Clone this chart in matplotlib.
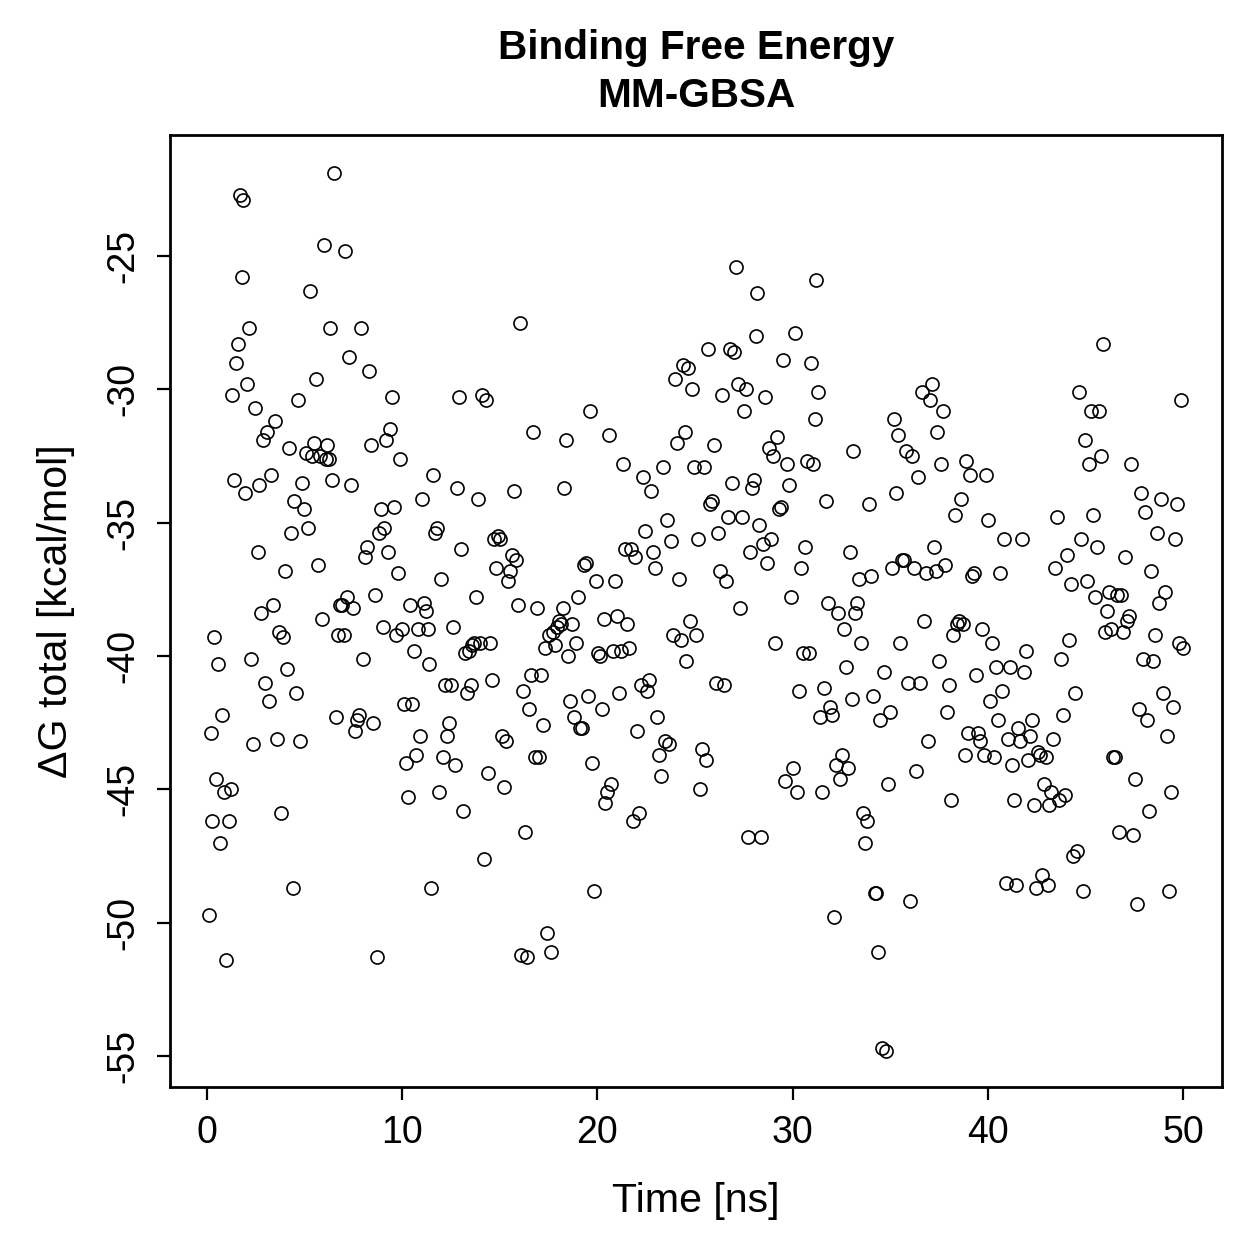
import matplotlib
matplotlib.use("Agg")
import matplotlib.pyplot as plt

plt.rcParams['font.family'] = ['Liberation Sans', 'DejaVu Sans']
plt.rcParams['axes.unicode_minus'] = False

# time [ns] of each frame
time_ns = [
    0.10, 0.20, 0.26, 0.36, 0.46, 0.56, 0.67, 0.77, 0.87, 0.97, 1.13, 1.23,
    1.28, 1.38, 1.49, 1.59, 1.69, 1.79, 1.84, 1.95, 2.05, 2.15,
    2.25, 2.36, 2.46, 2.61, 2.66, 2.77, 2.87, 2.97, 3.07, 3.18,
    3.28, 3.38, 3.48, 3.59, 3.69, 3.79, 3.89, 4.00, 4.10, 4.20,
    4.30, 4.41, 4.46, 4.56, 4.66, 4.76, 4.87, 4.97, 5.07, 5.17,
    5.28, 5.38, 5.48, 5.58, 5.69, 5.79, 5.89, 5.99, 6.10, 6.15,
    6.25, 6.30, 6.40, 6.51, 6.61, 6.71, 6.81, 6.92, 7.02, 7.07,
    7.17, 7.27, 7.38, 7.48, 7.58, 7.68, 7.79, 7.89, 7.99, 8.09,
    8.20, 8.30, 8.40, 8.50, 8.61, 8.71, 8.81, 8.91, 9.02, 9.07,
    9.17, 9.27, 9.38, 9.48, 9.58, 9.68, 9.78, 9.89, 9.99, 10.09,
    10.19, 10.30, 10.40, 10.50, 10.60, 10.71, 10.81, 10.91, 11.01, 11.12,
    11.22, 11.32, 11.37, 11.48, 11.58, 11.68, 11.78, 11.89, 11.99, 12.09,
    12.19, 12.30, 12.40, 12.50, 12.60, 12.70, 12.81, 12.91, 13.01, 13.11,
    13.22, 13.32, 13.42, 13.52, 13.58, 13.68, 13.78, 13.88, 13.99, 14.09,
    14.19, 14.29, 14.40, 14.50, 14.60, 14.70, 14.81, 14.91, 15.01, 15.11,
    15.22, 15.32, 15.42, 15.52, 15.62, 15.73, 15.83, 15.93, 16.03, 16.09,
    16.19, 16.29, 16.39, 16.50, 16.60, 16.70, 16.80, 16.91, 17.01, 17.11,
    17.21, 17.32, 17.42, 17.52, 17.62, 17.73, 17.83, 17.93, 18.03, 18.14,
    18.24, 18.29, 18.39, 18.49, 18.60, 18.70, 18.80, 18.90, 19.01, 19.11,
    19.21, 19.31, 19.42, 19.52, 19.62, 19.72, 19.83, 19.93, 20.03, 20.13,
    20.24, 20.34, 20.39, 20.49, 20.59, 20.70, 20.80, 20.90, 21.00, 21.11,
    21.21, 21.31, 21.41, 21.52, 21.62, 21.72, 21.82, 21.93, 22.03, 22.13,
    22.23, 22.34, 22.44, 22.54, 22.64, 22.75, 22.85, 22.95, 23.05, 23.16,
    23.26, 23.36, 23.46, 23.57, 23.67, 23.77, 23.87, 23.98, 24.08, 24.18,
    24.28, 24.39, 24.49, 24.54, 24.64, 24.74, 24.85, 24.95, 25.05, 25.15,
    25.26, 25.36, 25.46, 25.56, 25.67, 25.77, 25.87, 25.97, 26.08, 26.18,
    26.28, 26.38, 26.49, 26.59, 26.69, 26.79, 26.90, 27.00, 27.10, 27.20,
    27.31, 27.41, 27.51, 27.61, 27.72, 27.82, 27.92, 28.02, 28.13, 28.18,
    28.28, 28.38, 28.48, 28.59, 28.69, 28.79, 28.89, 29.00, 29.10, 29.20,
    29.30, 29.41, 29.51, 29.61, 29.71, 29.82, 29.92, 30.02, 30.12, 30.23,
    30.33, 30.43, 30.53, 30.64, 30.74, 30.84, 30.94, 31.05, 31.15, 31.20,
    31.30, 31.40, 31.51, 31.61, 31.71, 31.81, 31.92, 32.02, 32.12, 32.22,
    32.33, 32.43, 32.53, 32.63, 32.74, 32.84, 32.94, 33.04, 33.09, 33.20,
    33.30, 33.40, 33.50, 33.61, 33.71, 33.81, 33.91, 34.02, 34.12, 34.22,
    34.27, 34.38, 34.48, 34.58, 34.68, 34.78, 34.89, 34.99, 35.09, 35.19,
    35.30, 35.40, 35.50, 35.60, 35.71, 35.81, 35.91, 36.01, 36.12, 36.22,
    36.32, 36.42, 36.53, 36.63, 36.73, 36.83, 36.94, 37.04, 37.14, 37.24,
    37.35, 37.40, 37.50, 37.60, 37.70, 37.81, 37.91, 38.01, 38.11, 38.22,
    38.32, 38.42, 38.52, 38.63, 38.73, 38.83, 38.88, 38.99, 39.09, 39.19,
    39.29, 39.40, 39.50, 39.60, 39.70, 39.81, 39.91, 40.01, 40.11, 40.22,
    40.32, 40.42, 40.52, 40.63, 40.73, 40.83, 40.93, 41.03, 41.14, 41.24,
    41.34, 41.44, 41.55, 41.65, 41.75, 41.85, 41.96, 42.06, 42.16, 42.26,
    42.37, 42.47, 42.57, 42.67, 42.78, 42.88, 42.98, 43.08, 43.14, 43.24,
    43.34, 43.44, 43.55, 43.65, 43.75, 43.85, 43.95, 44.06, 44.16, 44.26,
    44.36, 44.47, 44.57, 44.67, 44.77, 44.88, 44.98, 45.08, 45.18, 45.29,
    45.39, 45.49, 45.59, 45.70, 45.80, 45.90, 46.00, 46.11, 46.21, 46.31,
    46.41, 46.52, 46.62, 46.72, 46.82, 46.93, 47.03, 47.13, 47.23, 47.34,
    47.44, 47.54, 47.64, 47.75, 47.85, 47.95, 48.05, 48.16, 48.26, 48.36,
    48.46, 48.57, 48.67, 48.77, 48.87, 48.98, 49.08, 49.18, 49.28, 49.39,
    49.49, 49.59, 49.69, 49.80, 49.90, 50.00,
]

# Delta G total [kcal/mol], same order
dg_total = [
    -49.7, -42.9, -46.2, -39.3, -44.6, -40.3, -47.0, -42.2, -45.1, -51.4, -46.2, -45.0,
    -30.2, -33.4, -29.0, -28.3, -22.7, -25.8, -22.9, -33.9, -29.8, -27.7,
    -40.1, -43.3, -30.7, -36.1, -33.6, -38.4, -31.9, -41.0, -31.6, -41.7,
    -33.2, -38.1, -31.2, -43.1, -39.1, -45.9, -39.3, -36.8, -40.5, -32.2,
    -35.4, -48.7, -34.2, -41.4, -30.4, -43.2, -33.5, -34.5, -32.4, -35.2,
    -26.3, -32.5, -32.0, -29.6, -36.6, -32.5, -38.6, -24.6, -32.6, -32.1,
    -32.6, -27.7, -33.4, -21.9, -42.3, -39.2, -38.1, -38.1, -39.2, -24.8,
    -37.8, -28.8, -33.6, -38.2, -42.8, -42.4, -42.2, -27.7, -40.1, -36.3,
    -35.9, -29.3, -32.1, -42.5, -37.7, -51.3, -35.4, -34.5, -38.9, -35.2,
    -31.9, -36.1, -31.5, -30.3, -34.4, -39.2, -36.9, -32.6, -39.0, -41.8,
    -44.0, -45.3, -38.1, -41.8, -39.8, -43.7, -39.0, -43.0, -34.1, -38.0,
    -38.3, -39.0, -40.3, -48.7, -33.2, -35.4, -35.2, -45.1, -37.1, -43.8,
    -41.1, -43.0, -42.5, -41.1, -38.9, -44.1, -33.7, -30.3, -36.0, -45.8,
    -39.9, -41.4, -39.8, -41.1, -39.6, -39.5, -37.8, -34.1, -39.5, -30.2,
    -47.6, -30.4, -44.4, -39.5, -40.9, -35.6, -36.7, -35.5, -35.6, -43.0,
    -44.9, -43.2, -37.2, -36.8, -36.2, -33.8, -36.4, -38.1, -27.5, -51.2,
    -41.3, -46.6, -51.3, -42.0, -40.7, -31.6, -43.8, -38.2, -43.8, -40.7,
    -42.6, -39.7, -50.4, -39.2, -51.1, -39.1, -39.6, -38.9, -38.7, -38.8,
    -38.2, -33.7, -31.9, -40.0, -41.7, -38.8, -42.3, -39.5, -37.8, -42.7,
    -42.7, -36.6, -36.5, -41.5, -30.8, -44.0, -48.8, -37.2, -39.9, -40.0,
    -42.0, -38.6, -45.5, -45.1, -31.7, -44.8, -39.8, -37.2, -38.5, -41.4,
    -39.8, -32.8, -36.0, -38.8, -39.7, -36.0, -46.2, -36.3, -42.8, -45.9,
    -41.1, -33.3, -35.3, -41.3, -40.9, -33.8, -36.1, -36.7, -42.3, -43.7,
    -44.5, -32.9, -43.2, -34.9, -43.3, -35.7, -39.2, -29.6, -32.0, -37.1,
    -39.4, -29.1, -31.6, -40.2, -29.2, -38.7, -30.0, -32.9, -39.2, -35.6,
    -45.0, -43.5, -32.9, -43.9, -28.5, -34.3, -34.2, -32.1, -41.0, -35.4,
    -36.8, -30.2, -41.1, -37.2, -34.8, -28.5, -33.5, -28.6, -25.4, -29.8,
    -38.2, -34.8, -30.8, -30.0, -46.8, -36.1, -33.7, -33.4, -28.0, -26.4,
    -35.1, -46.8, -35.8, -30.3, -36.5, -32.2, -35.6, -32.5, -39.5, -31.8,
    -34.5, -34.4, -28.9, -44.7, -32.8, -33.6, -37.8, -44.2, -27.9, -45.1,
    -41.3, -36.7, -39.9, -35.9, -32.7, -39.9, -29.0, -32.8, -31.1, -25.9,
    -30.1, -42.3, -45.1, -41.2, -34.2, -38.0, -41.9, -42.2, -49.8, -44.1,
    -38.4, -44.6, -43.7, -39.0, -40.4, -44.2, -36.1, -41.6, -32.3, -38.4,
    -38.0, -37.1, -39.5, -45.9, -47.0, -46.2, -34.3, -37.0, -41.5, -48.9,
    -48.9, -51.1, -42.4, -54.7, -40.6, -54.8, -44.8, -42.1, -36.7, -31.1,
    -33.9, -31.7, -39.5, -36.4, -36.4, -32.3, -41.0, -49.2, -32.5, -36.7,
    -44.3, -33.3, -41.0, -30.1, -38.7, -36.9, -43.2, -30.4, -29.8, -35.9,
    -36.8, -31.6, -40.2, -32.8, -30.8, -36.6, -42.1, -41.1, -45.4, -39.2,
    -34.7, -38.8, -38.7, -34.1, -38.8, -43.7, -32.7, -42.9, -33.2, -37.0,
    -36.9, -40.7, -42.9, -43.2, -39.0, -43.7, -33.2, -34.9, -41.7, -39.5,
    -43.8, -40.4, -42.4, -36.9, -41.3, -35.6, -48.5, -43.1, -40.4, -44.1,
    -45.4, -48.6, -42.7, -43.2, -35.6, -40.6, -39.8, -43.9, -43.0, -42.4,
    -45.6, -48.7, -43.6, -43.7, -48.2, -44.8, -43.8, -48.6, -45.6, -45.1,
    -43.1, -36.7, -34.8, -45.4, -40.1, -42.2, -45.2, -36.2, -39.4, -37.3,
    -47.5, -41.4, -47.3, -30.1, -35.6, -48.8, -31.9, -37.2, -32.8, -30.8,
    -34.7, -37.8, -35.9, -30.8, -32.5, -28.3, -39.1, -38.3, -37.6, -39.0,
    -43.8, -43.8, -37.7, -46.6, -37.7, -39.1, -36.3, -38.7, -38.5, -32.8,
    -46.7, -44.6, -49.3, -42.0, -33.9, -40.1, -34.6, -42.4, -45.8, -36.8,
    -40.2, -39.2, -35.4, -38.0, -34.1, -41.4, -37.6, -43.0, -48.8, -45.1,
    -41.9, -35.6, -34.3, -39.5, -30.4, -39.7,
]

x_ticks = [0, 10, 20, 30, 40, 50]
y_ticks = [-55, -50, -45, -40, -35, -30, -25]

fig = plt.figure(figsize=(6.295, 6.295), dpi=200)
ax = fig.add_axes([0.135, 0.1366, 0.8356, 0.7562])

ax.plot(time_ns, dg_total, linestyle='none', marker='o', markersize=4.7,
        markerfacecolor='none', markeredgecolor='black', markeredgewidth=0.6)

ax.set_xlim(-1.9, 52.0)
ax.set_ylim(-56.16, -20.46)
ax.set_xticks(x_ticks)
ax.set_yticks(y_ticks)
for s in ax.spines.values():
    s.set_linewidth(1.0)

ax.tick_params(axis='both', direction='out', length=4.7, width=0.8,
               labelsize=13.5, pad=5.5)
ax.tick_params(axis='y', labelrotation=90)
for lab in ax.get_yticklabels():
    lab.set_verticalalignment('center')

ax.set_xlabel('Time [ns]', fontsize=14.8, labelpad=11)
ax.set_ylabel('\u0394G total [kcal/mol]', fontsize=14.8, labelpad=11)
ax.set_title('Binding Free Energy\nMM-GBSA', fontsize=14.6, fontweight='bold',
             pad=10, linespacing=1.35)

fig.savefig('out.png', dpi=200)
